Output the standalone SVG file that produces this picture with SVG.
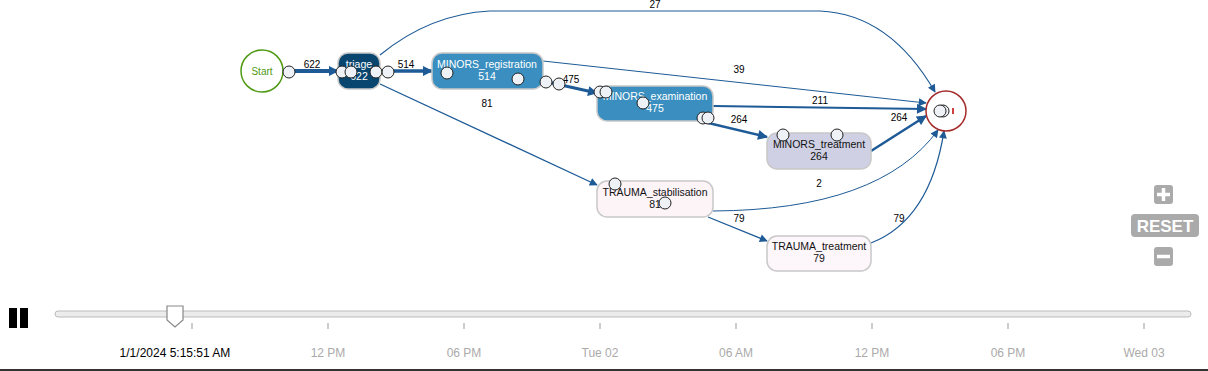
<svg xmlns="http://www.w3.org/2000/svg" width="1208" height="371" viewBox="0 0 1208 371">
<style>
  .lbl{font-family:"Liberation Sans",Arial,sans-serif;font-size:10px;fill:#000;text-anchor:middle}
  .nt{font-family:"Liberation Sans",Arial,sans-serif;font-size:10.5px;text-anchor:middle}
  .white{fill:#fff}
  .dark{fill:#111}
  .edge{fill:none;stroke:#1d5a96}
  .node{stroke:#c8c8c8;stroke-width:1.5}
  .tok{fill:#eef2f6;stroke:#222;stroke-width:1}
  .tick{stroke:#999;stroke-width:1}
  .tl{font-family:"Liberation Sans",Arial,sans-serif;font-size:12px;fill:#aaa;text-anchor:middle}
  .btn{fill:#aaa}
</style>
<defs>
  <marker id="arr" viewBox="0 0 10 10" refX="9" refY="5" markerWidth="10" markerHeight="8" markerUnits="userSpaceOnUse" orient="auto">
    <path d="M0,0 L10,5 L0,10 z" fill="#1d5a96"/>
  </marker>
  <marker id="arrB" viewBox="0 0 10 10" refX="9" refY="5" markerWidth="12" markerHeight="10" markerUnits="userSpaceOnUse" orient="auto">
    <path d="M0,0 L10,5 L0,10 z" fill="#1d5a96"/>
  </marker>
</defs>
<rect width="1208" height="371" fill="#fff"/>

<g id="connectors">
  <path class="edge" stroke-width="4" marker-end="url(#arrB)" d="M283,71 L338,71"/>
  <text class="lbl" x="312" y="68">622</text>
  <path class="edge" stroke-width="3.5" marker-end="url(#arrB)" d="M380,71 L432,71"/>
  <text class="lbl" x="406" y="68">514</text>
  <path class="edge" stroke-width="3" marker-end="url(#arrB)" d="M543,81 L597,93"/>
  <text class="lbl" x="571" y="83">475</text>
  <path class="edge" stroke-width="2.5" marker-end="url(#arrB)" d="M700,121 L767,137"/>
  <text class="lbl" x="739" y="123">264</text>
  <path class="edge" stroke-width="2.5" marker-end="url(#arrB)" d="M871,151 L926,116"/>
  <text class="lbl" x="899" y="121">264</text>
  <path class="edge" stroke-width="2" marker-end="url(#arrB)" d="M713,106 L926,109"/>
  <text class="lbl" x="820" y="104">211</text>
  <path class="edge" stroke-width="1" marker-end="url(#arr)" d="M543,61 L926,103"/>
  <text class="lbl" x="739" y="73">39</text>
  <path class="edge" stroke-width="1.2" marker-end="url(#arr)" d="M380,55 Q430,14 490,11 L820,11 Q890,14 935,92"/>
  <text class="lbl" x="655" y="8">27</text>
  <path class="edge" stroke-width="1.3" marker-end="url(#arr)" d="M380,84 L597,185"/>
  <text class="lbl" x="487" y="107">81</text>
  <path class="edge" stroke-width="1" marker-end="url(#arr)" d="M713,211 Q880,210 938,130"/>
  <text class="lbl" x="819" y="187">2</text>
  <path class="edge" stroke-width="1.3" marker-end="url(#arr)" d="M708,217 L767,241"/>
  <text class="lbl" x="739" y="222">79</text>
  <path class="edge" stroke-width="1.3" marker-end="url(#arr)" d="M871,243 Q930,220 944,131"/>
  <text class="lbl" x="899" y="222">79</text>
</g>

<g id="start">
  <circle cx="262" cy="71" r="21" fill="#fff" stroke="#4f9a14" stroke-width="1.5"/>
  <text class="nt" x="262" y="75" fill="#4f9a14" style="font-size:10px">Start</text>
</g>
<g id="triage">
  <rect class="node" x="338" y="53" width="42" height="36" rx="10" fill="#08466f"/>
  <text class="nt white" x="359" y="68">triage</text>
  <text class="nt white" x="359" y="80">622</text>
</g>
<g id="minors_registration">
  <rect class="node" x="432" y="53" width="111" height="36" rx="10" fill="#3a8fc0"/>
  <text class="nt white" x="487" y="68">MINORS_registration</text>
  <text class="nt white" x="487" y="80">514</text>
</g>
<g id="minors_examination">
  <rect class="node" x="597" y="86" width="116" height="35" rx="10" fill="#3a8fc0"/>
  <text class="nt white" x="655" y="100">MINORS_examination</text>
  <text class="nt white" x="655" y="112">475</text>
</g>
<g id="minors_treatment">
  <rect class="node" x="767" y="133" width="104" height="36" rx="10" fill="#cfd0e3"/>
  <text class="nt dark" x="819" y="148">MINORS_treatment</text>
  <text class="nt dark" x="819" y="160">264</text>
</g>
<g id="trauma_stabilisation">
  <rect class="node" x="597" y="181" width="116" height="36" rx="10" fill="#fdf4f8"/>
  <text class="nt dark" x="655" y="196">TRAUMA_stabilisation</text>
  <text class="nt dark" x="655" y="208">81</text>
</g>
<g id="trauma_treatment">
  <rect class="node" x="767" y="236" width="104" height="35" rx="10" fill="#fdf6fa"/>
  <text class="nt dark" x="819" y="250">TRAUMA_treatment</text>
  <text class="nt dark" x="819" y="262">79</text>
</g>
<g id="end">
  <circle cx="946" cy="111" r="20" fill="#fff" stroke="#a52a2a" stroke-width="1.5"/>
  <rect x="952" y="108" width="2" height="6" fill="#d04040"/>
</g>

<g id="tokens">
  <circle class="tok" cx="289" cy="72" r="6"/>
  <circle class="tok" cx="342" cy="72" r="6"/>
  <circle class="tok" cx="351" cy="72" r="6"/>
  <circle class="tok" cx="376" cy="72" r="6"/>
  <circle class="tok" cx="388" cy="72" r="6"/>
  <circle class="tok" cx="447" cy="73" r="6"/>
  <circle class="tok" cx="518" cy="79" r="6"/>
  <circle class="tok" cx="546" cy="82" r="6"/>
  <circle class="tok" cx="559" cy="84" r="6"/>
  <circle class="tok" cx="600" cy="92" r="6"/>
  <circle class="tok" cx="606" cy="92" r="6"/>
  <circle class="tok" cx="643" cy="103" r="6"/>
  <circle class="tok" cx="703" cy="118" r="6"/>
  <circle class="tok" cx="708" cy="118" r="6"/>
  <circle class="tok" cx="783" cy="135" r="6"/>
  <circle class="tok" cx="837" cy="135" r="6"/>
  <circle class="tok" cx="615" cy="184" r="6"/>
  <circle class="tok" cx="665" cy="203" r="6"/>
  <circle class="tok" cx="943" cy="111" r="6"/>
  <circle class="tok" cx="940" cy="111" r="6"/>
</g>

<g id="zoom-controls">
  <rect class="btn" x="1154" y="185" width="19" height="19" rx="3"/>
  <path d="M1163.5,188 V201 M1157,194.5 H1170" stroke="#fff" stroke-width="3.5"/>
  <rect class="btn" x="1131" y="214" width="68" height="23" rx="4"/>
  <text x="1165" y="232" text-anchor="middle" style="font-family:'Liberation Sans',Arial,sans-serif;font-size:17px;font-weight:bold" fill="#fff">RESET</text>
  <rect class="btn" x="1154" y="247" width="19" height="19" rx="3"/>
  <path d="M1157,256.5 H1170" stroke="#fff" stroke-width="3.5"/>
</g>

<g id="timeline">
  <rect x="9" y="308" width="8" height="20" fill="#000"/>
  <rect x="20" y="308" width="8" height="20" fill="#000"/>
  <rect x="55" y="311" width="1136" height="6" rx="3" fill="#ececec" stroke="#bbb" stroke-width="1"/>
  <path d="M167,306 H183 V320 L175,327 L167,320 Z" fill="#fff" stroke="#888" stroke-width="1.2"/>
  <line class="tick" x1="192" y1="323" x2="192" y2="329"/>
  <line class="tick" x1="328" y1="323" x2="328" y2="329"/>
  <line class="tick" x1="464" y1="323" x2="464" y2="329"/>
  <line class="tick" x1="600" y1="323" x2="600" y2="329"/>
  <line class="tick" x1="736" y1="323" x2="736" y2="329"/>
  <line class="tick" x1="872" y1="323" x2="872" y2="329"/>
  <line class="tick" x1="1008" y1="323" x2="1008" y2="329"/>
  <line class="tick" x1="1144" y1="323" x2="1144" y2="329"/>
  <text class="tl" x="175" y="357" style="fill:#000">1/1/2024 5:15:51 AM</text>
  <text class="tl" x="328" y="357">12 PM</text>
  <text class="tl" x="464" y="357">06 PM</text>
  <text class="tl" x="600" y="357">Tue 02</text>
  <text class="tl" x="736" y="357">06 AM</text>
  <text class="tl" x="872" y="357">12 PM</text>
  <text class="tl" x="1008" y="357">06 PM</text>
  <text class="tl" x="1144" y="357">Wed 03</text>
  <rect x="0" y="369" width="1208" height="2" fill="#333"/>
</g>
</svg>
